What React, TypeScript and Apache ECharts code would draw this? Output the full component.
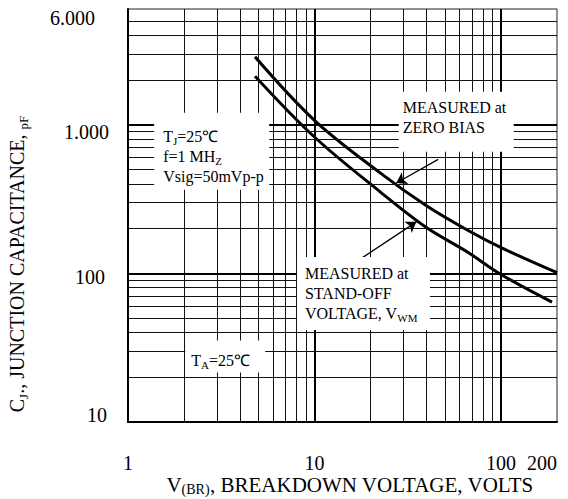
import React, { useEffect, useRef } from 'react';
import * as echarts from 'echarts';

// Axis ticks
const xTicks = [1, 10, 100, 200];
const yTicks = [10, 100, 1000, 6000];

// Grid lines (log paper)
const xMinorGrid = [2, 3, 4, 5, 6, 7, 8, 9, 20, 30, 40, 50, 60, 70, 80, 90];
const xMajorGrid = [10, 100];
const yMinorGrid = [20, 30, 40, 50, 60, 70, 80, 90, 200, 300, 400, 500, 600, 700, 800, 900, 2000, 3000, 4000, 5000];
const yMajorGrid = [100, 1000];

// Curves: breakdown voltage (V) vs junction capacitance (pF)
const zeroBiasV = [4.8, 10, 22.6, 39.7, 66.8, 99, 200];
const zeroBiasC = [2860, 1070, 472, 286, 194, 150, 101];
const standOffV = [4.8, 10, 22.6, 39.7, 66.8, 99, 188];
const standOffC = [2120, 826, 352, 204, 138, 99, 64];

// Arrows (start -> tip), in data coordinates
const zeroBiasArrow = [[46.1, 584], [27.5, 405]];
const standOffArrow = [[18.1, 127.6], [35.2, 222]];

// Annotation box anchors (top-left), in data coordinates
const noteConditions = [1.39, 1194];
const noteZeroBias = [28.5, 1654];
const noteStandOff = [8.11, 127.6];
const noteAmbient = [2.04, 35.1];

const FONT = 'Liberation Serif';

const subStyle = { fontSize: 11, fontFamily: FONT, color: '#000', verticalAlign: 'bottom', lineHeight: 20 };
const baseStyle = { fontSize: 16, fontFamily: FONT, color: '#000', lineHeight: 20 };

function note(coord: number[], text: string, padding: number[], w: number, h: number) {
  return {
    coord,
    symbol: 'rect',
    symbolSize: 1,
    itemStyle: { color: 'rgba(0,0,0,0)' },
    label: {
      show: true,
      position: [0, 0],
      align: 'left',
      verticalAlign: 'top',
      formatter: text,
      backgroundColor: '#fff',
      padding,
      width: w,
      height: h,
      ...baseStyle,
      rich: { b: baseStyle, s: subStyle },
    },
  };
}

export default function App() {
  const ref = useRef<HTMLDivElement>(null);
  useEffect(() => {
    document.body.style.margin = '0';
    if (!ref.current) return;
    const chart = echarts.init(ref.current, undefined, { renderer: 'svg' });

    const gridLines = [
      ...xMinorGrid.map((v) => ({ xAxis: v, lineStyle: { width: 1, color: '#111', type: 'solid' } })),
      ...xMajorGrid.map((v) => ({ xAxis: v, lineStyle: { width: 2, color: '#000', type: 'solid' } })),
      ...yMinorGrid.map((v) => ({ yAxis: v, lineStyle: { width: 1, color: '#111', type: 'solid' } })),
      ...yMajorGrid.map((v) => ({ yAxis: v, lineStyle: { width: 2, color: '#000', type: 'solid' } })),
    ];

    const tickStyle = { fontSize: 20, fontFamily: FONT, color: '#000', fontWeight: 'normal' };
    const yRich: Record<string, any> = {
      a: { ...tickStyle, padding: [18, 14, 0, 0] },
      b: { ...tickStyle, padding: [14, 0, 0, 0] },
      c: { ...tickStyle, padding: [8, 4, 0, 0] },
      d: { ...tickStyle, padding: [0, 2, 14, 0] },
    };

    chart.setOption({
      animation: false,
      backgroundColor: '#fff',
      textStyle: { fontFamily: FONT },
      grid: {
        left: 128,
        right: 11,
        top: 9,
        bottom: 77,
        show: true,
        borderColor: '#222',
        borderWidth: 1,
        containLabel: false,
        outerBoundsMode: 'none',
      },
      xAxis: {
        type: 'log',
        logBase: 10,
        min: xTicks[0],
        max: xTicks[xTicks.length - 1],
        name: 'V{s|(BR)}, BREAKDOWN VOLTAGE, VOLTS',
        nameLocation: 'middle',
        nameGap: 52,
        nameMoveOverlap: false,
        nameTextStyle: {
          fontSize: 21,
          fontFamily: FONT,
          color: '#000',
          lineHeight: 22,
          padding: [0, 0, 0, 15],
          rich: { s: { fontSize: 14, fontFamily: FONT, color: '#000', verticalAlign: 'bottom', lineHeight: 22 } },
        },
        axisLine: { show: true, lineStyle: { color: '#000', width: 2 } },
        axisTick: { show: false },
        splitLine: { show: false },
        minorTick: { show: false },
        axisLabel: {
          margin: 31,
          ...tickStyle,
          alignMaxLabel: 'right',
          formatter: (v: number) => String(Math.round(v)),
        },
      },
      yAxis: {
        type: 'log',
        logBase: 10,
        min: yTicks[0],
        max: yTicks[yTicks.length - 1],
        name: 'C{s|J}., JUNCTION CAPACITANCE, {s|pF}',
        nameLocation: 'middle',
        nameGap: 98,
        nameMoveOverlap: false,
        nameTextStyle: {
          fontSize: 20,
          fontFamily: FONT,
          color: '#000',
          padding: [0, 97, 0, 0],
          rich: { s: { fontSize: 13, fontFamily: FONT, color: '#000', verticalAlign: 'bottom', lineHeight: 26 } },
        },
        axisLine: { show: true, lineStyle: { color: '#000', width: 2 } },
        axisTick: { show: false },
        splitLine: { show: false },
        axisLabel: {
          margin: 19,
          ...tickStyle,
          formatter: (v: number) => {
            const r = Math.round(v);
            const txt = r >= 1000 ? `${r / 1000}.000` : String(r);
            const key = r === yTicks[3] ? 'a' : r === yTicks[2] ? 'b' : r === yTicks[1] ? 'c' : 'd';
            return `{${key}|${txt}}`;
          },
          rich: yRich,
        },
      },
      series: [
        {
          name: 'grid',
          type: 'line',
          data: [],
          z: 1,
          silent: true,
          markLine: {
            silent: true,
            symbol: ['none', 'none'],
            label: { show: false },
            data: gridLines,
          },
        },
        {
          name: 'notes',
          type: 'line',
          data: [],
          z: 2,
          silent: true,
          markPoint: {
            silent: true,
            data: [
              note(noteConditions, 'T{s|J}=25℃\nf=1 MH{s|Z}\nVsig=50mVp-p', [14, 6, 3, 9], 100, 60),
              note(noteZeroBias, 'MEASURED at\nZERO BIAS', [6, 8, 14, 4], 103, 40),
              note(noteStandOff, 'MEASURED at\nSTAND-OFF\nVOLTAGE, V{s|WM}', [6, 13, 7, 8], 112, 60),
              note(noteAmbient, 'T{s|A}=25℃', [10, 18, 2, 6], 56, 20),
            ],
          },
        },
        {
          name: 'Zero bias',
          type: 'line',
          z: 3,
          smooth: 0.35,
          showSymbol: false,
          lineStyle: { color: '#000', width: 3 },
          data: zeroBiasV.map((v, i) => [v, zeroBiasC[i]]),
          markLine: {
            silent: true,
            symbol: ['none', 'arrow'],
            symbolSize: 10,
            label: { show: false },
            lineStyle: { color: '#000', width: 1.3, type: 'solid' },
            itemStyle: { color: '#000' },
            data: [[{ coord: zeroBiasArrow[0] }, { coord: zeroBiasArrow[1] }]],
          },
        },
        {
          name: 'Stand-off',
          type: 'line',
          z: 3,
          smooth: 0.35,
          showSymbol: false,
          lineStyle: { color: '#000', width: 3 },
          data: standOffV.map((v, i) => [v, standOffC[i]]),
          markLine: {
            silent: true,
            symbol: ['none', 'arrow'],
            symbolSize: 10,
            label: { show: false },
            lineStyle: { color: '#000', width: 1.3, type: 'solid' },
            itemStyle: { color: '#000' },
            data: [[{ coord: standOffArrow[0] }, { coord: standOffArrow[1] }]],
          },
        },
      ],
    });
    return () => chart.dispose();
  }, []);
  return <div ref={ref} style={{ width: 568, height: 499 }} />;
}
